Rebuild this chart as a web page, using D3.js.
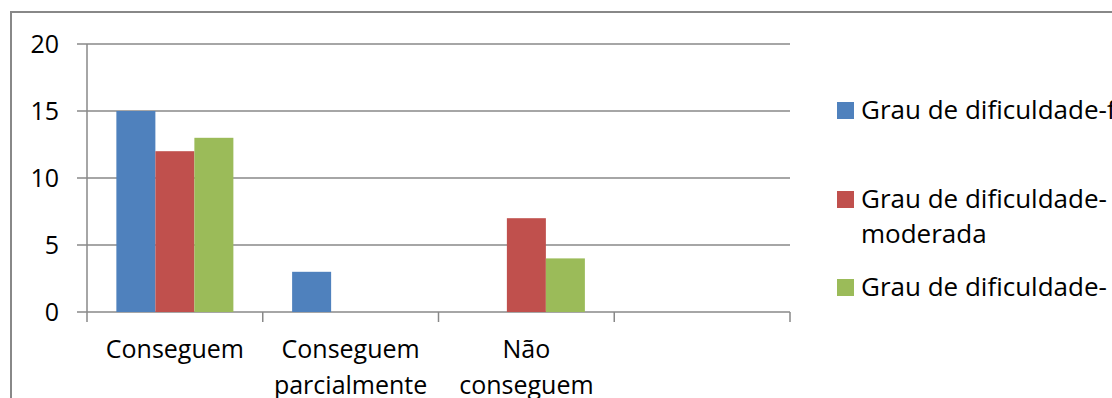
<!DOCTYPE html>
<html>
<head>
<meta charset="utf-8">
<script src="https://cdn.jsdelivr.net/npm/d3@7"></script>
<style>
  html, body { margin: 0; padding: 0; background: #fff; }
  svg { display: block; font-family: "Open Sans", "Noto Sans", sans-serif; }
</style>
</head>
<body>
<svg id="chart" width="1112" height="398"></svg>
<script>
// chart data
const categories = ["Conseguem", "Conseguem\nparcialmente", "Não\nconseguem", ""];
const seriesNames = ["Grau de dificuldade-f", "Grau de dificuldade-\nmoderada", "Grau de dificuldade-"];
const facil = [15, 3, 0, 0];
const moderada = [12, 0, 7, 0];
const grave = [13, 0, 4, 0];
const yTicks = [0, 5, 10, 15, 20];
const colors = ["#4F81BD", "#C0504D", "#9BBB59"];

const width = 1112, height = 398;
const plot = { left: 87, right: 790, top: 44, bottom: 312 };
const fontSize = 25;

const svg = d3.select("#chart");

// outer frame (only left and top edges are visible)
svg.append("path")
  .attr("d", `M11,${height} L11,12 L${width},12`)
  .attr("fill", "none")
  .attr("stroke", "#888")
  .attr("stroke-width", 2);

const x = d3.scaleBand()
  .domain(categories)
  .range([plot.left, plot.right]);

const xInner = d3.scaleBand()
  .domain(d3.range(seriesNames.length))
  .range([0, x.bandwidth()])
  .paddingInner(0)
  .paddingOuter(0.753);

const y = d3.scaleLinear()
  .domain([0, 20])
  .range([plot.bottom, plot.top]);

// gridlines + y ticks
svg.append("g")
  .selectAll("line")
  .data(yTicks)
  .join("line")
  .attr("x1", plot.left - 10)
  .attr("x2", plot.right)
  .attr("y1", d => y(d))
  .attr("y2", d => y(d))
  .attr("stroke", "#888")
  .attr("stroke-width", 1.5);

// y axis line
svg.append("line")
  .attr("x1", plot.left).attr("x2", plot.left)
  .attr("y1", plot.top).attr("y2", plot.bottom + 10)
  .attr("stroke", "#888")
  .attr("stroke-width", 1.5);

// x tick marks at band edges
const edges = categories.map(c => x(c)).concat([plot.right]);
svg.append("g")
  .selectAll("line")
  .data(edges.slice(1))
  .join("line")
  .attr("x1", d => d).attr("x2", d => d)
  .attr("y1", plot.bottom).attr("y2", plot.bottom + 10)
  .attr("stroke", "#888")
  .attr("stroke-width", 1.5);

// y labels
svg.append("g")
  .selectAll("text")
  .data(yTicks)
  .join("text")
  .attr("x", 59)
  .attr("y", d => y(d))
  .attr("dy", "0.36em")
  .attr("text-anchor", "end")
  .attr("font-size", fontSize)
  .attr("fill", "#000")
  .text(d => d);

// bars
const seriesData = [facil, moderada, grave];
seriesData.forEach((vals, si) => {
  svg.append("g")
    .selectAll("rect")
    .data(vals.map((v, i) => ({ cat: categories[i], v })))
    .join("rect")
    .attr("x", d => x(d.cat) + xInner(si))
    .attr("width", xInner.bandwidth())
    .attr("y", d => y(d.v))
    .attr("height", d => y(0) - y(d.v))
    .attr("fill", colors[si]);
});

// x labels
svg.append("g")
  .selectAll("text")
  .data(categories)
  .join("text")
  .attr("x", d => x(d) + x.bandwidth() / 2)
  .attr("y", 358)
  .attr("text-anchor", "middle")
  .attr("font-size", fontSize)
  .attr("fill", "#000")
  .each(function (d) {
    d3.select(this).selectAll("tspan")
      .data(d.split("\n"))
      .join("tspan")
      .attr("x", x(d) + x.bandwidth() / 2)
      .attr("dy", (t, i) => i === 0 ? 0 : 36)
      .text(t => t);
  });

// legend
const legendTops = [102, 191, 279];
const legend = svg.append("g");
seriesNames.forEach((name, i) => {
  legend.append("rect")
    .attr("x", 837).attr("y", legendTops[i])
    .attr("width", 17).attr("height", 17)
    .attr("fill", colors[i]);
  const t = legend.append("text")
    .attr("x", 861)
    .attr("y", legendTops[i] + 17)
    .attr("font-size", 26)
    .attr("fill", "#000");
  t.selectAll("tspan")
    .data(name.split("\n"))
    .join("tspan")
    .attr("x", 861)
    .attr("dy", (s, j) => j === 0 ? 0 : 35)
    .text(s => s);
});
</script>
</body>
</html>
